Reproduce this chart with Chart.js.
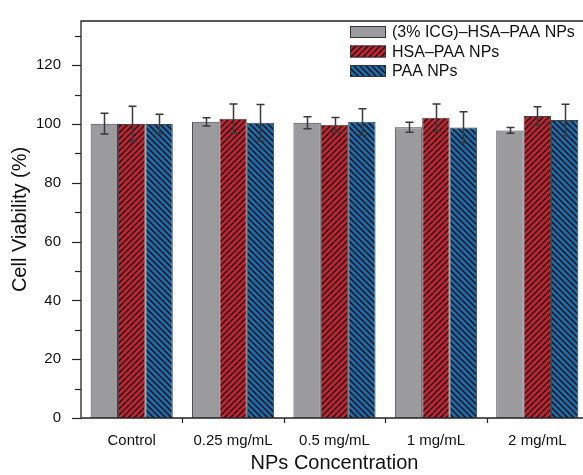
<!DOCTYPE html>
<html>
<head>
<meta charset="utf-8">
<script src="https://cdn.jsdelivr.net/npm/chart.js@4.4.0/dist/chart.umd.min.js"></script>
<style>
html,body{margin:0;padding:0;overflow:hidden;background:#fff;}
#wrap{width:600px;height:475px;}
</style>
</head>
<body>
<div id="wrap"><canvas id="c" width="600" height="475"></canvas></div>
<script>
const categories = ['Control', '0.25 mg/mL', '0.5 mg/mL', '1 mg/mL', '2 mg/mL'];
const seriesNames = ['(3% ICG)\u2013HSA\u2013PAA NPs', 'HSA\u2013PAA NPs', 'PAA NPs'];
const icgValues = [100.1, 100.7, 100.4, 98.9, 97.8];
const icgErrors = [3.5, 1.4, 2.0, 1.7, 1.0];
const hsaValues = [100.0, 101.8, 99.7, 102.1, 102.7];
const hsaErrors = [6.0, 5.0, 2.5, 4.7, 3.1];
const paaValues = [100.0, 100.4, 100.7, 98.8, 101.3];
const paaErrors = [3.3, 6.2, 4.5, 5.3, 5.4];
const yTickValues = [0, 20, 40, 60, 80, 100, 120];

function hatch(bg, dir) {
  const s = 6;
  const c = document.createElement('canvas');
  c.width = s; c.height = s;
  const g = c.getContext('2d');
  g.fillStyle = bg; g.fillRect(0, 0, s, s);
  g.strokeStyle = '#111'; g.lineWidth = 1.5;
  g.beginPath();
  if (dir > 0) {
    g.moveTo(-1, s + 1); g.lineTo(s + 1, -1);
    g.moveTo(-1 - s, s + 1); g.lineTo(1, -1);
    g.moveTo(s - 1, s + 1); g.lineTo(2 * s + 1, -1);
  } else {
    g.moveTo(-1, -1); g.lineTo(s + 1, s + 1);
    g.moveTo(-1 - s, -1); g.lineTo(1, s + 1);
    g.moveTo(s - 1, -1); g.lineTo(2 * s + 1, s + 1);
  }
  g.stroke();
  return g.createPattern(c, 'repeat');
}
const ctx = document.getElementById('c').getContext('2d');
const fills = ['#9b9b9d', hatch('#cc2030', 1), hatch('#1c6cb0', -1)];
const errorSets = [icgErrors, hsaErrors, paaErrors];

const FONT = '"Liberation Sans", Arial, sans-serif';

const decor = {
  id: 'decor',
  afterDatasetsDraw(chart) {
    const c = chart.ctx;
    const ys = chart.scales.y, xs = chart.scales.x;
    const a = chart.chartArea;
    c.save();
    // error bars
    c.strokeStyle = '#3a3a3a'; c.lineWidth = 1.5;
    chart.data.datasets.forEach((ds, i) => {
      const meta = chart.getDatasetMeta(i);
      meta.data.forEach((bar, j) => {
        const v = ds.data[j], e = errorSets[i][j];
        const x = Math.round(bar.x) + 0.5;
        const y1 = ys.getPixelForValue(v + e), y2 = ys.getPixelForValue(v - e);
        c.beginPath();
        c.moveTo(x, y1); c.lineTo(x, y2);
        c.moveTo(x - 4, y1); c.lineTo(x + 4, y1);
        c.moveTo(x - 4, y2); c.lineTo(x + 4, y2);
        c.stroke();
      });
    });
    // frame (left, top, bottom)
    c.strokeStyle = '#222'; c.lineWidth = 1.3;
    c.beginPath();
    c.moveTo(a.right, a.top); c.lineTo(a.left, a.top); c.lineTo(a.left, a.bottom); c.lineTo(a.right, a.bottom);
    c.stroke();
    // y ticks
    c.lineWidth = 1.2;
    for (let v = 0; v <= 130; v += 10) {
      const y = Math.round(ys.getPixelForValue(v)) + 0.5;
      const len = (v % 20 === 0) ? 9 : 6;
      c.beginPath(); c.moveTo(a.left - len, y); c.lineTo(a.left, y); c.stroke();
    }
    // x ticks at category boundaries
    for (let k = 1; k < categories.length; k++) {
      const x = Math.round((xs.getPixelForValue(k - 1) + xs.getPixelForValue(k)) / 2) + 0.5;
      c.beginPath(); c.moveTo(x, a.bottom); c.lineTo(x, a.bottom + 5); c.stroke();
    }
    // legend
    c.font = '16px ' + FONT;
    c.textBaseline = 'middle';
    const lx = 350, ly0 = 32, pitch = 19.5;
    seriesNames.forEach((name, i) => {
      const cy = ly0 + i * pitch;
      c.fillStyle = fills[i];
      c.fillRect(lx, cy - 6, 36, 12);
      c.strokeStyle = '#333'; c.lineWidth = 1;
      c.strokeRect(lx + 0.5, cy - 6 + 0.5, 35, 11);
      c.fillStyle = '#111';
      c.fillText(name, lx + 42, cy + 1);
    });
    c.restore();
  }
};

new Chart(ctx, {
  type: 'bar',
  data: {
    labels: categories,
    datasets: [
      { label: seriesNames[0], data: icgValues, backgroundColor: fills[0], borderColor: '#444', borderWidth: 1 },
      { label: seriesNames[1], data: hsaValues, backgroundColor: fills[1], borderColor: '#444', borderWidth: 1 },
      { label: seriesNames[2], data: paaValues, backgroundColor: fills[2], borderColor: '#444', borderWidth: 1 }
    ]
  },
  options: {
    responsive: false,
    animation: false,
    events: [],
    layout: { padding: { top: 14, right: 12, left: 0, bottom: 0 } },
    datasets: { bar: { categoryPercentage: 0.81, barPercentage: 1.0 } },
    plugins: { legend: { display: false }, tooltip: { enabled: false } },
    scales: {
      x: {
        grid: { display: false },
        border: { display: false },
        ticks: { color: '#111', font: { family: FONT, size: 15 }, padding: 6, maxRotation: 0 },
        title: { display: true, text: 'NPs Concentration', color: '#111', font: { family: FONT, size: 20 }, padding: { top: 4, bottom: 0 } },
        afterFit(s) { s.height = 57; }
      },
      y: {
        min: 0, max: 135,
        grid: { display: false },
        border: { display: false },
        afterBuildTicks(s) { s.ticks = yTickValues.map(v => ({ value: v })); },
        ticks: { color: '#111', font: { family: FONT, size: 15 }, padding: 12 },
        title: { display: true, text: 'Cell Viability (%)', color: '#111', font: { family: FONT, size: 20 }, padding: { top: 8, bottom: 0 } },
        afterFit(s) { s.width = 81; }
      }
    }
  },
  plugins: [decor]
});
</script>
</body>
</html>
